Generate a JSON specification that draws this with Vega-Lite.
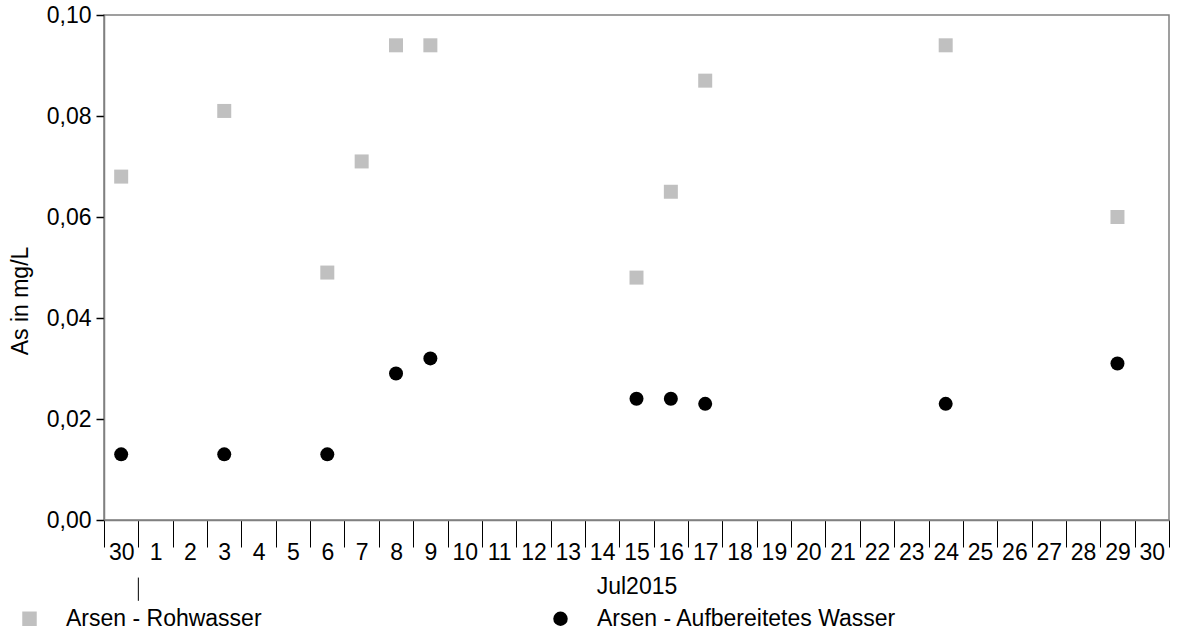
{
  "$schema": "https://vega.github.io/schema/vega-lite/v6.json",
  "width": 1065,
  "height": 505,
  "autosize": {"type": "none"},
  "padding": {"left": 104, "top": 15, "right": 8, "bottom": 112},
  "background": "white",
  "config": {
    "font": "Liberation Sans",
    "view": {"stroke": "#808080", "strokeWidth": 1.5},
    "axis": {"labelFont": "Liberation Sans", "titleFont": "Liberation Sans", "labelColor": "#000", "titleColor": "#000", "titleFontWeight": "normal"}
  },
  "datasets": {
    "pts": [
      {"d": 0, "series": "Arsen - Rohwasser", "v": 0.068},
      {"d": 3, "series": "Arsen - Rohwasser", "v": 0.081},
      {"d": 6, "series": "Arsen - Rohwasser", "v": 0.049},
      {"d": 7, "series": "Arsen - Rohwasser", "v": 0.071},
      {"d": 8, "series": "Arsen - Rohwasser", "v": 0.094},
      {"d": 9, "series": "Arsen - Rohwasser", "v": 0.094},
      {"d": 15, "series": "Arsen - Rohwasser", "v": 0.048},
      {"d": 16, "series": "Arsen - Rohwasser", "v": 0.065},
      {"d": 17, "series": "Arsen - Rohwasser", "v": 0.087},
      {"d": 24, "series": "Arsen - Rohwasser", "v": 0.094},
      {"d": 29, "series": "Arsen - Rohwasser", "v": 0.060},
      {"d": 0, "series": "Arsen - Aufbereitetes Wasser", "v": 0.013},
      {"d": 3, "series": "Arsen - Aufbereitetes Wasser", "v": 0.013},
      {"d": 6, "series": "Arsen - Aufbereitetes Wasser", "v": 0.013},
      {"d": 8, "series": "Arsen - Aufbereitetes Wasser", "v": 0.029},
      {"d": 9, "series": "Arsen - Aufbereitetes Wasser", "v": 0.032},
      {"d": 15, "series": "Arsen - Aufbereitetes Wasser", "v": 0.024},
      {"d": 16, "series": "Arsen - Aufbereitetes Wasser", "v": 0.024},
      {"d": 17, "series": "Arsen - Aufbereitetes Wasser", "v": 0.023},
      {"d": 24, "series": "Arsen - Aufbereitetes Wasser", "v": 0.023},
      {"d": 29, "series": "Arsen - Aufbereitetes Wasser", "v": 0.031}
    ],
    "month": [
      {"d": 1, "y1": -0.0114, "y2": -0.016}
    ]
  },
  "layer": [
    {
      "data": {"name": "pts"},
      "mark": {"type": "point", "filled": true, "opacity": 1, "size": 196, "strokeWidth": 0},
      "encoding": {
        "x": {
          "field": "d", "type": "ordinal",
          "scale": {"domain": [0,1,2,3,4,5,6,7,8,9,10,11,12,13,14,15,16,17,18,19,20,21,22,23,24,25,26,27,28,29,30], "paddingInner": 0, "paddingOuter": 0},
          "axis": {
            "title": "Jul2015", "titleFontSize": 23, "titleBaseline": "alphabetic", "titleY": 73.5,
            "labelFontSize": 23, "labelAngle": 0, "labelBaseline": "alphabetic", "labelPadding": 12,
            "labelExpr": "datum.value == 0 ? '30' : datum.value",
            "tickBand": "extent", "tickSize": 27, "tickColor": "#000", "tickWidth": 1,
            "domainColor": "#808080", "domainWidth": 1.5, "grid": false
          }
        },
        "y": {
          "field": "v", "type": "quantitative",
          "scale": {"domain": [0, 0.1], "nice": false, "zero": true},
          "axis": {
            "title": "As in mg/L", "titleFontSize": 23, "titleX": -77, "titleY": 285.5, "titleBaseline": "alphabetic", "titleAngle": -90, "titleAlign": "center",
            "values": [0, 0.02, 0.04, 0.06, 0.08, 0.1],
            "labelExpr": "replace(format(datum.value, '.2f'), '.', ',')",
            "labelFontSize": 23, "labelPadding": 5, "tickSize": 8, "tickColor": "#000", "tickWidth": 1.5,
            "domainColor": "#808080", "domainWidth": 1.5, "grid": false
          }
        },
        "color": {
          "field": "series", "type": "nominal",
          "scale": {"domain": ["Arsen - Rohwasser", "Arsen - Aufbereitetes Wasser"], "range": ["#c0c0c0", "#000000"]},
          "legend": {
            "title": null, "orient": "none", "legendX": -86, "legendY": 592,
            "direction": "horizontal", "columns": 2, "columnPadding": 287,
            "labelFontSize": 23, "labelFont": "Liberation Sans", "labelColor": "#000", "labelOffset": 25,
            "symbolSize": 210, "symbolStrokeWidth": 0, "symbolOpacity": 1, "labelLimit": 500
          }
        },
        "shape": {
          "field": "series", "type": "nominal",
          "scale": {"domain": ["Arsen - Rohwasser", "Arsen - Aufbereitetes Wasser"], "range": ["square", "circle"]}
        }
      }
    },
    {
      "data": {"name": "month"},
      "mark": {"type": "rule", "color": "#000", "strokeWidth": 1, "clip": false},
      "encoding": {
        "x": {"field": "d", "type": "ordinal", "bandPosition": 0},
        "y": {"field": "y1", "type": "quantitative"},
        "y2": {"field": "y2"}
      }
    }
  ]
}
